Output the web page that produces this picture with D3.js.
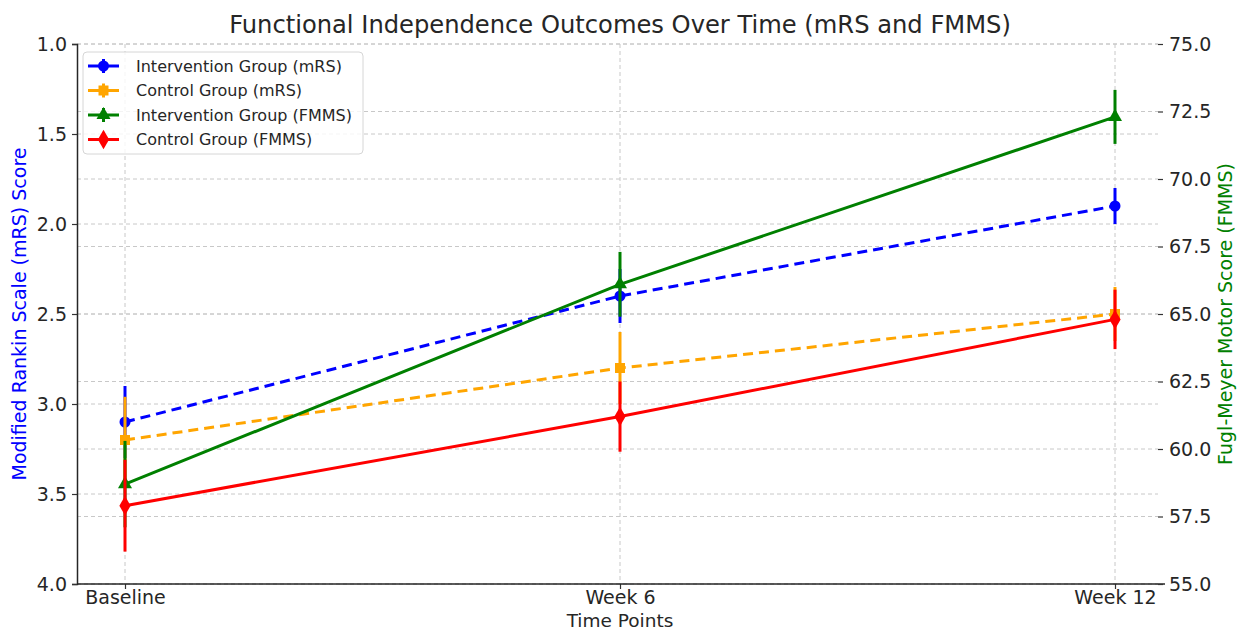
<!DOCTYPE html>
<html>
<head>
<meta charset="utf-8">
<script src="https://cdn.jsdelivr.net/npm/d3@7/dist/d3.min.js"></script>
<style>
  html, body { margin: 0; padding: 0; background: #fff; }
  svg text { font-family: "DejaVu Sans", sans-serif; fill: #262626; }
</style>
</head>
<body>
<svg id="chart" width="1239" height="632"></svg>
<script>
// Time points
const timePoints = ["Baseline", "Week 6", "Week 12"];

// Modified Rankin Scale (lower is better) – means and SDs
const mrsIntervention = [3.1, 2.4, 1.9];
const mrsInterventionErr = [0.2, 0.15, 0.1];
const mrsControl = [3.2, 2.8, 2.5];
const mrsControlErr = [0.24, 0.2, 0.15];

// Fugl-Meyer Motor Score – means and SDs
const fmmsIntervention = [58.7, 66.1, 72.3];
const fmmsInterventionErr = [1.6, 1.2, 1.0];
const fmmsControl = [57.9, 61.2, 64.8];
const fmmsControlErr = [1.7, 1.3, 1.1];

// Axis ticks
const mrsTicks = [1.0, 1.5, 2.0, 2.5, 3.0, 3.5, 4.0];
const fmmsTicks = [55.0, 57.5, 60.0, 62.5, 65.0, 67.5, 70.0, 72.5, 75.0];

const svg = d3.select("#chart");
const plot = { left: 77, right: 1163, top: 44, bottom: 584 };

const x = d3.scalePoint().domain(timePoints).range([125, 1115]);
const yL = d3.scaleLinear().domain([1.0, 4.0]).range([plot.top, plot.bottom]); // inverted mRS
const yR = d3.scaleLinear().domain([55, 75]).range([plot.bottom, plot.top]);

const gridColor = "#c8c8c8";

// Grid lines
const grid = svg.append("g");
grid.selectAll("line.gx").data(timePoints).join("line")
  .attr("x1", d => x(d)).attr("x2", d => x(d))
  .attr("y1", plot.top).attr("y2", plot.bottom)
  .attr("stroke", gridColor).attr("stroke-dasharray", "4,3").attr("stroke-width", 1);
grid.selectAll("line.gl").data(mrsTicks).join("line")
  .attr("x1", plot.left).attr("x2", plot.right - 5)
  .attr("y1", d => yL(d)).attr("y2", d => yL(d))
  .attr("stroke", gridColor).attr("stroke-dasharray", "4,3").attr("stroke-width", 1);
grid.selectAll("line.gr").data(fmmsTicks).join("line")
  .attr("x1", plot.left).attr("x2", plot.right - 5)
  .attr("y1", d => yR(d)).attr("y2", d => yR(d))
  .attr("stroke", gridColor).attr("stroke-dasharray", "4,3").attr("stroke-width", 1);

// Axes
const axisFont = "19px";
const gLeft = svg.append("g").attr("transform", `translate(${plot.left},0)`)
  .call(d3.axisLeft(yL).tickValues(mrsTicks).tickFormat(d3.format(".1f")).tickSize(5).tickPadding(5));
gLeft.select(".domain").attr("stroke", "#262626").attr("stroke-width", 1.5);

const gBottom = svg.append("g").attr("transform", `translate(0,${plot.bottom})`)
  .call(d3.axisBottom(x).tickSize(5).tickPadding(2));
gBottom.select(".domain").remove();
gBottom.append("line").attr("x1", plot.left).attr("x2", plot.right + 2)
  .attr("y1", 0).attr("y2", 0).attr("stroke", "#262626").attr("stroke-width", 1.5);

const gRight = svg.append("g").attr("transform", `translate(${plot.right - 5},0)`)
  .call(d3.axisRight(yR).tickValues(fmmsTicks).tickFormat(d3.format(".1f")).tickSize(5).tickPadding(6));
gRight.select(".domain").remove();

[gLeft, gBottom, gRight].forEach(g => {
  g.selectAll(".tick line").attr("stroke", "#333").attr("stroke-width", 1.2);
  g.selectAll(".tick text").style("font-size", axisFont)
    .style("font-family", "DejaVu Sans, sans-serif").attr("fill", "#262626");
});

// Series definitions
const series = [
  { name: "Intervention Group (mRS)", vals: mrsIntervention, err: mrsInterventionErr, y: yL, color: "#0000ff", dash: "10,6", marker: "circle" },
  { name: "Control Group (mRS)", vals: mrsControl, err: mrsControlErr, y: yL, color: "#ffa500", dash: "10,6", marker: "square" },
  { name: "Intervention Group (FMMS)", vals: fmmsIntervention, err: fmmsInterventionErr, y: yR, color: "#008000", dash: null, marker: "triangle" },
  { name: "Control Group (FMMS)", vals: fmmsControl, err: fmmsControlErr, y: yR, color: "#ff0000", dash: null, marker: "diamond" }
];

const markerSym = {
  circle: d3.symbol().type(d3.symbolCircle).size(95),
  square: d3.symbol().type(d3.symbolSquare).size(100),
  triangle: d3.symbol().type(d3.symbolTriangle).size(85),
  diamond: d3.symbol().type(d3.symbolDiamond).size(110)
};

series.forEach(s => {
  const g = svg.append("g");
  const pts = timePoints.map((t, i) => ({ t, v: s.vals[i], e: s.err[i] }));
  // error bars
  g.selectAll("line.err").data(pts).join("line")
    .attr("x1", d => x(d.t)).attr("x2", d => x(d.t))
    .attr("y1", d => s.y(d.v - d.e)).attr("y2", d => s.y(d.v + d.e))
    .attr("stroke", s.color).attr("stroke-width", 3);
  // connecting line
  g.append("path").datum(pts)
    .attr("d", d3.line().x(d => x(d.t)).y(d => s.y(d.v)))
    .attr("fill", "none").attr("stroke", s.color).attr("stroke-width", 3)
    .attr("stroke-dasharray", s.dash);
  // markers
  g.selectAll("path.mk").data(pts).join("path")
    .attr("d", markerSym[s.marker]())
    .attr("transform", d => `translate(${x(d.t)},${s.y(d.v)})`)
    .attr("fill", s.color);
});

// Legend
const legend = svg.append("g").attr("transform", "translate(83,52)");
legend.append("rect").attr("width", 280).attr("height", 102).attr("rx", 4)
  .attr("fill", "rgba(255,255,255,0.8)").attr("stroke", "#d6d6d6").attr("stroke-width", 1);
series.forEach((s, i) => {
  const ly = 14 + i * 24.5;
  const row = legend.append("g").attr("transform", `translate(0,${ly})`);
  row.append("line").attr("x1", 5).attr("x2", 36).attr("y1", 0).attr("y2", 0)
    .attr("stroke", s.color).attr("stroke-width", 3);
  row.append("line").attr("x1", 20.5).attr("x2", 20.5).attr("y1", -7).attr("y2", 7)
    .attr("stroke", s.color).attr("stroke-width", 3);
  row.append("path").attr("d", markerSym[s.marker]())
    .attr("transform", "translate(20.5,0)").attr("fill", s.color);
  row.append("text").attr("x", 53).attr("y", 0).attr("dy", "0.35em")
    .style("font-size", "16px").text(s.name);
});

// Title and axis labels
svg.append("text").attr("x", 620).attr("y", 33).attr("text-anchor", "middle")
  .style("font-size", "24.2px").text("Functional Independence Outcomes Over Time (mRS and FMMS)");
svg.append("text").attr("x", 620).attr("y", 627).attr("text-anchor", "middle")
  .style("font-size", "18.5px").text("Time Points");
svg.append("text").attr("transform", "translate(26,314) rotate(-90)").attr("text-anchor", "middle")
  .style("font-size", "19px").style("fill", "#0000ff").text("Modified Rankin Scale (mRS) Score");
svg.append("text").attr("transform", "translate(1232,314) rotate(-90)").attr("text-anchor", "middle")
  .style("font-size", "19px").style("fill", "#008000").text("Fugl-Meyer Motor Score (FMMS)");
</script>
</body>
</html>
